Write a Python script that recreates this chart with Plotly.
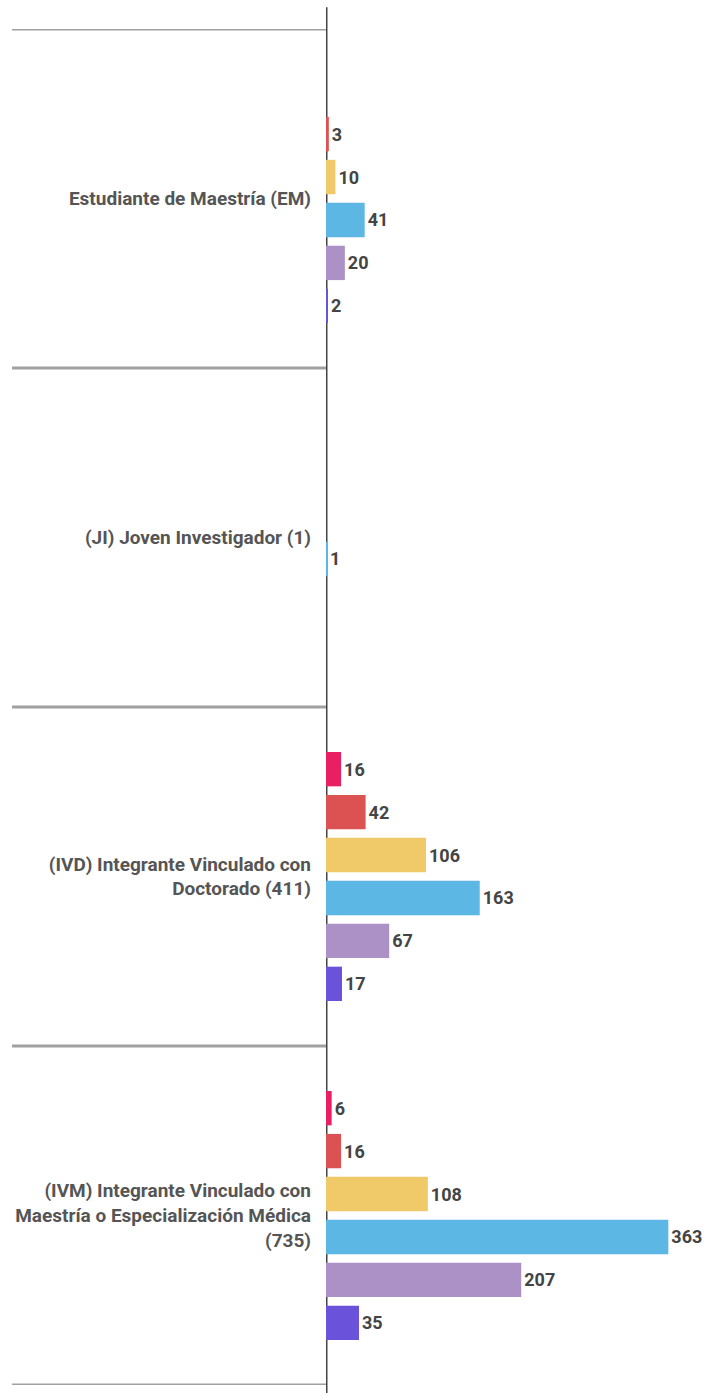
import plotly.graph_objs as go

# categories, top to bottom
categories = [
    "Estudiante de Maestría (EM)",
    "(JI) Joven Investigador (1)",
    "(IVD) Integrante Vinculado con<br>Doctorado (411)",
    "(IVM) Integrante Vinculado con<br>Maestría o Especialización Médica<br>(735)",
]

# one list per series (None = no bar)
serie_1 = [None, None, 16, 6]
serie_2 = [3, None, 42, 16]
serie_3 = [10, None, 106, 108]
serie_4 = [41, 1, 163, 363]
serie_5 = [20, None, 67, 207]
serie_6 = [2, None, 17, 35]

series = [serie_1, serie_2, serie_3, serie_4, serie_5, serie_6]
colors = ['#E91E63', '#DC5252', '#F0CA68', '#5DB7E5', '#AB91C6', '#6B52DA']

fig = go.Figure()
for vals, col in zip(series, colors):
    fig.add_trace(go.Bar(
        y=categories, x=vals, orientation='h',
        marker=dict(color=col, line=dict(width=0)),
        text=[str(v) if v is not None else '' for v in vals],
        textposition='outside',
        constraintext='none',
        textfont=dict(family='Roboto', size=18, color='#444444', weight='bold'),
        cliponaxis=False,
        showlegend=False,
    ))

fig.update_layout(
    width=707, height=1393,
    margin=dict(l=326, r=0, t=29, b=8),
    barmode='group', bargap=0.24, bargroupgap=0.2,
    plot_bgcolor='white', paper_bgcolor='white',
    font=dict(family='Roboto', color='#555555'),
    xaxis=dict(range=[0, 404], visible=False, showgrid=False, zeroline=False),
    yaxis=dict(
        range=[len(categories) - 0.5, -0.5],
        showgrid=False, zeroline=False, showline=False,
        ticks='', ticklabelstandoff=14,
        tickfont=dict(family='Roboto', size=19, color='#555555', weight='bold'),
    ),
)

# category separators extending into the label area
for i in range(len(categories) + 1):
    fig.add_shape(type='line', xref='paper', yref='y',
                  x0=-0.824, x1=0, y0=i - 0.5, y1=i - 0.5,
                  line=dict(color='#A0A0A0', width=3), layer='below')

# vertical axis line
fig.add_shape(type='line', xref='x', yref='paper', x0=0, x1=0, y0=-0.006, y1=1.016,
              line=dict(color='#444444', width=3), layer='below')

# drop the default page margin so the figure fills the window exactly
fig.write_html("out.html", config={'displayModeBar': False},
               post_script="document.body.style.margin='0';document.body.style.overflow='hidden';")
